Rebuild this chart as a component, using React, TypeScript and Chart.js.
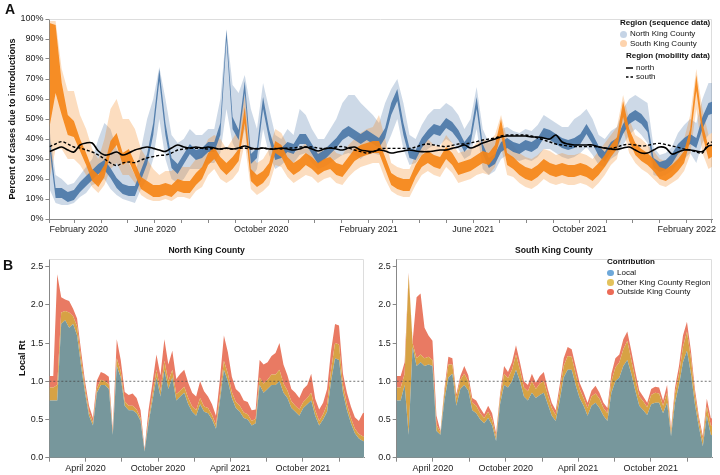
import React, { useEffect, useRef } from "react";
import { Chart, registerables } from "chart.js";

Chart.register(...registerables);

const FONT = "'Liberation Sans', Arial, Helvetica, sans-serif";
Chart.defaults.font.family = FONT;

// ---------------- Panel A (weekly samples from 2020-02-01; day index = days since 2020-01-01) ----------------
const A_START_DAY = 31;
const A_STEP_DAYS = 7;

const northMid = [
  38, 13, 13, 11, 12, 16, 19, 22, 25, 27,
  23, 18, 15, 14, 14, 22, 30, 45, 72, 45,
  28, 25, 30, 35, 32, 33, 36, 36, 45, 92,
  48, 42, 66, 30, 33, 58, 42, 32, 33, 36,
  35, 40, 40, 35, 30, 32, 35, 38, 42, 44,
  42, 40, 42, 40, 38, 43, 55, 62, 45, 33,
  32, 38, 42, 45, 44, 48, 46, 42, 36, 40,
  58, 35, 28, 30, 36, 38, 36, 35, 37, 36,
  38, 43, 42, 40, 38, 37, 38, 40, 45, 40,
  34, 31, 36, 38, 45, 50, 52, 50, 46, 28,
  26, 27, 30, 35, 38, 40, 38, 48, 55, 56,
];
const northHalf = [
  3, 2.5, 2.5, 2.5, 2.5, 2.5, 2.5, 2.5, 2.5, 2.5,
  2.5, 2.5, 2.5, 2.5, 2.5, 2.5, 2.5, 3, 3, 3,
  2.5, 2.5, 2.5, 2.5, 2.5, 2.5, 2.5, 2.5, 3, 2.5,
  3, 2.5, 3, 2.5, 2.5, 3, 2.5, 2.5, 2.5, 2.5,
  2.5, 2.5, 2.5, 2.5, 2.5, 2.5, 2.5, 2.5, 2.5, 2.5,
  2.5, 2.5, 2.5, 2.5, 2.5, 2.5, 3, 3, 3, 2.5,
  2.5, 2.5, 2.5, 2.5, 2.5, 2.5, 2.5, 2.5, 2.5, 2.5,
  3, 2.5, 2.5, 2.5, 2.5, 2.5, 2.5, 2.5, 2.5, 2.5,
  2.5, 2.5, 2.5, 2.5, 2.5, 2.5, 2.5, 2.5, 2.5, 2.5,
  2.5, 2.5, 2.5, 2.5, 2.5, 2.5, 2.5, 2.5, 2.5, 2.5,
  2.5, 2.5, 2.5, 2.5, 2.5, 2.5, 2.5, 3, 3, 3,
];
const northLo = [
  15, 8, 7, 7, 8, 11, 13, 17, 18, 20,
  15, 12, 10, 9, 8, 15, 20, 30, 50, 30,
  20, 18, 20, 25, 25, 25, 28, 28, 33, 55,
  38, 32, 45, 20, 25, 45, 32, 25, 27, 30,
  28, 32, 33, 28, 25, 26, 28, 30, 32, 33,
  32, 30, 33, 33, 32, 35, 42, 50, 35, 27,
  28, 32, 35, 37, 37, 40, 38, 35, 30, 32,
  45, 25, 22, 24, 30, 32, 30, 29, 30, 29,
  31, 35, 35, 33, 31, 30, 31, 33, 36, 32,
  27, 26, 30, 32, 37, 42, 45, 42, 38, 22,
  21, 22, 24, 28, 30, 33, 28, 38, 42, 44,
];
const northHi = [
  45, 22, 20, 17, 18, 22, 26, 30, 40, 48,
  45, 35, 30, 28, 22, 35, 50, 60, 76, 60,
  42, 38, 40, 45, 42, 42, 45, 45, 60, 95,
  67, 63, 72, 55, 45, 68, 55, 42, 40, 45,
  42, 55, 52, 45, 40, 40, 45, 50, 58, 62,
  62, 58, 55, 52, 48, 58, 65, 70, 58, 42,
  40, 47, 52, 55, 55, 58, 56, 52, 45, 50,
  66, 45, 38, 40, 45, 46, 44, 43, 45, 44,
  47, 52, 50, 48, 46, 46, 50, 52, 55, 50,
  42, 40, 44, 46, 55, 60, 62, 60, 58, 36,
  32, 33, 36, 43, 47, 50, 48, 60, 68, 68,
];

const southMid = [
  72, 80, 60, 47, 45, 37, 30, 22, 19, 24,
  36, 40, 30, 32, 25, 18, 16, 14, 14, 15,
  14, 17, 16, 16, 20, 23, 30, 33, 28, 25,
  28, 32, 52, 22, 19, 21, 25, 36, 34, 28,
  25, 27, 30, 28, 25, 27, 28, 25, 24, 28,
  32, 34, 35, 36, 36, 28, 20, 18, 17, 17,
  24, 29, 31, 29, 28, 33, 30, 25, 26, 27,
  29, 31, 30, 34, 46, 30, 28, 25, 23, 22,
  24, 27, 25, 24, 25, 24, 24, 25, 24, 22,
  25, 29, 34, 38, 55, 42, 35, 32, 30, 27,
  23, 22, 24, 27, 31, 42, 68, 45, 33, 35,
];
const southHalf = [
  26, 17, 8, 5, 4, 3, 3, 3, 3, 3,
  3, 3, 3, 3, 3, 3, 3, 3, 3, 3,
  3, 3, 3, 3, 3, 3, 3, 3, 3, 3,
  3, 3, 4, 3, 3, 3, 3, 3, 3, 3,
  3, 3, 3, 3, 3, 3, 3, 3, 3, 3,
  3, 3, 3, 3, 3, 3, 3, 3, 3, 3,
  3, 3, 3, 3, 3, 3, 3, 3, 3, 3,
  3, 3, 3, 3, 4, 3, 3, 3, 3, 3,
  3, 3, 3, 3, 3, 3, 3, 3, 3, 3,
  3, 3, 3, 3, 4, 3, 3, 3, 3, 3,
  3, 3, 3, 3, 3, 3, 4, 3, 3, 3,
];
const southLo = [
  20, 35, 35, 30, 30, 27, 22, 16, 13, 17,
  25, 28, 22, 22, 18, 12, 10, 9, 9, 10,
  9, 11, 11, 10, 14, 16, 22, 25, 20, 18,
  20, 24, 38, 15, 12, 14, 17, 27, 26, 21,
  18, 20, 22, 21, 18, 20, 21, 18, 17, 21,
  24, 26, 27, 28, 28, 20, 14, 12, 11, 11,
  17, 22, 24, 22, 21, 26, 23, 18, 19, 20,
  22, 23, 22, 26, 36, 22, 21, 18, 16, 15,
  17, 20, 18, 17, 18, 17, 17, 18, 17, 15,
  18, 22, 27, 30, 45, 33, 28, 25, 23, 20,
  17, 16, 18, 20, 24, 32, 55, 33, 25, 27,
];
const southHi = [
  99, 99, 75, 64, 64, 52, 45, 35, 30, 40,
  55, 60, 50, 50, 45, 35, 30, 25, 22, 24,
  24, 27, 26, 26, 30, 33, 40, 42, 40, 35,
  40, 45, 62, 32, 28, 30, 35, 45, 43, 37,
  33, 35, 38, 36, 33, 35, 37, 33, 32, 37,
  40, 43, 45, 46, 52, 40, 28, 26, 25, 25,
  32, 37, 40, 37, 36, 42, 38, 33, 34, 35,
  38, 40, 39, 42, 52, 40, 37, 33, 31, 30,
  32, 35, 34, 32, 33, 32, 32, 33, 32, 30,
  34, 38, 42, 46, 62, 50, 42, 40, 37, 34,
  30, 29, 31, 35, 40, 52, 75, 55, 42, 44,
];

const mobilityNorth = [
  33.7, 35, 36, 34.5, 33.5, 37, 38, 38, 34, 32,
  32.5, 33.5, 32, 33, 34.5, 35.3, 36, 35.3, 34.5, 33.8,
  35.5, 37, 36, 35.5, 36, 35.5, 36, 35.5, 35, 35.5,
  35, 35.5, 36.5, 35.5, 35, 35.5, 35, 35, 35.5, 35,
  34.5, 35, 36, 35, 34, 35, 35.5, 35, 34.5, 35.5,
  36, 34.5, 34, 33.7, 34.5, 34, 33, 33.5, 34, 34.5,
  34, 33.7, 33.7, 34, 34.5, 34.5, 35.3, 36, 37, 35.5,
  36.5, 38, 39, 40, 41, 41.5, 41.5, 41.5, 41.5, 41,
  41, 40.5, 40, 42, 38.5, 37.5, 37, 37, 37, 37,
  36, 35.5, 35, 34.8, 35.5, 36, 34.5, 33, 33, 34.5,
  36, 35.5, 32.5, 33.5, 34.5, 34.5, 34, 33.7, 36.5, 37,
];
const mobilitySouth = [
  36.2, 37.5, 38.7, 37.5, 36, 35.5, 34.5, 33.5, 32, 30,
  28, 26.7, 28, 28.5, 28.2, 29.5, 30.5, 31.2, 31.8, 32,
  33, 34.5, 35, 35.3, 35.3, 35.3, 35, 35.3, 35, 35.3,
  35, 35.3, 35.5, 35, 35.3, 35.5, 35, 35.3, 35, 35.5,
  35.5, 36, 36, 36, 35.5, 35.3, 35.5, 36, 36.2, 35.5,
  34.5, 33.7, 33, 33.5, 35, 35.3, 35.3, 35.3, 35.3, 35.3,
  36, 37, 37.5, 37, 36.5, 36.2, 36.8, 37.5, 37.5, 38,
  38.7, 39.5, 40, 40.5, 41.5, 42, 42, 42, 42, 41.5,
  40.5, 39.5, 38.5, 37.5, 37, 36.5, 36.2, 36.2, 36.2, 36.2,
  36, 35.5, 35.3, 36, 37, 37.3, 37, 36.5, 36.8, 37.5,
  37.8, 37.2, 36.5, 35.8, 35, 34.5, 33.5, 33, 38, 38.5,
];

const yTicksA = [0, 10, 20, 30, 40, 50, 60, 70, 80, 90, 100];

// ---------------- Panel B (10-day samples from 2020-01-01) ----------------
const B_STEP_DAYS = 10;

const northLocal = [
  0.75, 0.75, 0.75, 1.75, 1.8, 1.7, 1.75, 1.6, 1.2, 0.85,
  0.55, 0.42, 0.85, 0.95, 0.95, 0.9, 0.3, 1.2, 1.05, 0.68,
  0.62, 0.62, 0.58, 0.48, 0.08, 0.45, 0.75, 1.05, 0.8, 1.15,
  0.9, 1.05, 0.75, 0.8, 0.85, 0.7, 0.6, 0.55, 0.7, 0.6,
  0.58, 0.5, 0.38, 0.75, 1.15, 1.0, 0.78, 0.65, 0.6, 0.52,
  0.5, 0.42, 0.45, 0.95, 0.85, 0.9, 0.95, 0.95, 1.0, 0.85,
  0.78, 0.65, 0.6, 0.55, 0.65, 0.7, 0.75, 0.55, 0.42, 0.5,
  0.6, 1.0, 1.3, 1.28, 0.85, 0.62, 0.45, 0.32, 0.25, 0.22,
  0.2,
];
const northOther = [
  0.17, 0.17, 0.2, 0.15, 0.12, 0.2, 0.1, 0.12, 0.1, 0.07,
  0.05, 0.04, 0.06, 0.07, 0.05, 0.06, 0.03, 0.1, 0.08, 0.06,
  0.06, 0.06, 0.05, 0.04, 0.01, 0.05, 0.08, 0.1, 0.08, 0.12,
  0.1, 0.1, 0.08, 0.08, 0.08, 0.08, 0.07, 0.07, 0.08, 0.07,
  0.07, 0.06, 0.05, 0.08, 0.12, 0.1, 0.08, 0.08, 0.08, 0.07,
  0.07, 0.06, 0.06, 0.1, 0.12, 0.12, 0.14, 0.14, 0.15, 0.12,
  0.1, 0.09, 0.08, 0.08, 0.08, 0.08, 0.1, 0.07, 0.06, 0.07,
  0.1, 0.15, 0.2, 0.2, 0.1, 0.08, 0.07, 0.06, 0.06, 0.06,
  0.06,
];
const northOutside = [
  0.15, 0.15, 1.45, 0.2, 0.15, 0.15, 0.1, 0.1, 0.1, 0.08,
  0.08, 0.06, 0.1, 0.1, 0.1, 0.1, 0.05, 0.25, 0.15, 0.12,
  0.14, 0.16, 0.15, 0.1, 0.02, 0.12, 0.15, 0.2, 0.2, 0.28,
  0.22, 0.25, 0.2, 0.22, 0.22, 0.2, 0.18, 0.18, 0.22, 0.2,
  0.15, 0.14, 0.12, 0.2, 0.33, 0.28, 0.2, 0.17, 0.17, 0.16,
  0.16, 0.14, 0.12, 0.23, 0.25, 0.23, 0.24, 0.28, 0.35, 0.25,
  0.2, 0.16, 0.17, 0.15, 0.17, 0.17, 0.25, 0.15, 0.15, 0.15,
  0.2, 0.25, 0.25, 0.25, 0.15, 0.15, 0.15, 0.15, 0.17, 0.3,
  0.35,
];

const southLocal = [
  0.75, 0.75, 0.95, 0.3, 1.45, 1.2, 1.25, 1.2, 1.22, 1.2,
  0.35, 0.3, 0.75, 1.05, 1.1, 0.68, 0.9, 0.95, 0.88, 0.62,
  0.58, 0.5, 0.45, 0.52, 0.42, 0.22, 0.7, 0.95, 0.92, 1.0,
  1.15, 1.0, 0.8, 0.75, 0.85, 0.78, 0.82, 0.85, 0.7, 0.55,
  0.48, 0.75, 1.05, 1.15, 1.15, 0.95, 0.78, 0.68, 0.55, 0.68,
  0.72, 0.65, 0.55, 0.48, 0.85, 1.0, 1.05, 1.2, 1.28, 1.1,
  0.88, 0.68, 0.62, 0.56, 0.7, 0.72, 0.72, 0.58, 0.72, 0.28,
  0.72, 0.95, 1.25, 1.4, 1.1, 0.7, 0.4, 0.15, 0.55, 0.3,
  0.28,
];
const southOther = [
  0.17, 0.17, 0.15, 2.1, 0.05, 0.1, 0.1, 0.1, 0.1, 0.08,
  0.08, 0.03, 0.1, 0.17, 0.12, 0.1, 0.12, 0.15, 0.12, 0.1,
  0.1, 0.08, 0.07, 0.08, 0.08, 0.05, 0.08, 0.15, 0.12, 0.15,
  0.2, 0.15, 0.12, 0.12, 0.15, 0.12, 0.15, 0.15, 0.12, 0.1,
  0.08, 0.12, 0.15, 0.18, 0.17, 0.15, 0.12, 0.1, 0.1, 0.12,
  0.12, 0.12, 0.1, 0.1, 0.15, 0.18, 0.2, 0.22, 0.25, 0.18,
  0.15, 0.12, 0.12, 0.1, 0.12, 0.13, 0.12, 0.1, 0.13, 0.06,
  0.12, 0.15, 0.2, 0.25, 0.2, 0.12, 0.08, 0.08, 0.12, 0.12,
  0.12,
];
const southOutside = [
  0.15, 0.15, 0.15, 0.02, 0.02, 0.8, 0.8, 0.4, 0.28, 0.25,
  0.12, 0.02, 0.05, 0.1, 0.08, 0.05, 0.05, 0.1, 0.08, 0.06,
  0.07, 0.07, 0.05, 0.08, 0.08, 0.05, 0.05, 0.1, 0.08, 0.1,
  0.12, 0.1, 0.08, 0.08, 0.1, 0.08, 0.1, 0.12, 0.08, 0.07,
  0.06, 0.08, 0.1, 0.12, 0.1, 0.1, 0.08, 0.08, 0.07, 0.08,
  0.1, 0.08, 0.07, 0.07, 0.1, 0.12, 0.1, 0.13, 0.12, 0.12,
  0.1, 0.08, 0.06, 0.06, 0.08, 0.08, 0.08, 0.07, 0.1, 0.04,
  0.08, 0.1, 0.15, 0.13, 0.1, 0.08, 0.06, 0.05, 0.1, 0.1,
  0.1,
];

const yTicksB = [0, 0.5, 1, 1.5, 2, 2.5];
const REFERENCE_RT = 1;

// ---------------- helpers ----------------
const MONTHS = ["January", "February", "March", "April", "May", "June", "July", "August", "September", "October", "November", "December"];
const dayIndex = (y: number, m: number) => Math.round((Date.UTC(y, m, 1) - Date.UTC(2020, 0, 1)) / 86400000);

type Tick = { value: number; label: string };
function monthTicks(y0: number, m0: number, y1: number, m1: number, step: number, labelled: number[]): Tick[] {
  const out: Tick[] = [];
  let y = y0, m = m0;
  while (y < y1 || (y === y1 && m <= m1)) {
    out.push({ value: dayIndex(y, m), label: labelled.includes(m) ? `${MONTHS[m]} ${y}` : "" });
    m += step;
    while (m >= 12) { m -= 12; y += 1; }
  }
  return out;
}

const ticksA = monthTicks(2020, 1, 2022, 2, 1, [1, 5, 9]);
const ticksB = monthTicks(2020, 0, 2022, 0, 3, [3, 9]);

const daysA = northMid.map((_, i) => A_START_DAY + i * A_STEP_DAYS);
const daysB = northLocal.map((_, i) => i * B_STEP_DAYS);

const pts = (xs: number[], ys: number[]) => xs.map((x, i) => ({ x, y: ys[i] }));

const TICK_COLOR = "#888";
const LABEL_COLOR = "#1a1a1a";

function xScale(min: number, max: number, ticks: Tick[], height: number, align: string) {
  return {
    type: "linear",
    min,
    max,
    afterBuildTicks: (s: any) => { s.ticks = ticks.map((t) => ({ value: t.value })); },
    afterFit: (s: any) => { s.height = height; },
    ticks: {
      autoSkip: false,
      maxRotation: 0,
      minRotation: 0,
      align,
      padding: 1,
      color: LABEL_COLOR,
      font: { size: 9, family: FONT },
      callback: (v: number) => { const t = ticks.find((tt) => tt.value === v); return t ? t.label : ""; },
    },
    grid: { display: true, drawOnChartArea: false, drawTicks: true, tickLength: 4, color: TICK_COLOR, lineWidth: 1 },
    border: { display: true, color: TICK_COLOR, width: 1 },
  };
}

function yScale(min: number, max: number, values: number[], fmt: (v: number) => string, width: number, title: any, stacked = false) {
  return {
    type: "linear",
    min,
    max,
    stacked,
    afterBuildTicks: (s: any) => { s.ticks = values.map((v) => ({ value: v })); },
    afterFit: (s: any) => { s.width = width; },
    ticks: { padding: 2, color: LABEL_COLOR, font: { size: 9, family: FONT }, callback: (v: number) => fmt(v) },
    grid: { display: true, drawOnChartArea: false, drawTicks: true, tickLength: 4, color: TICK_COLOR, lineWidth: 1 },
    border: { display: true, color: TICK_COLOR, width: 1 },
    title: title || { display: false },
  };
}

const framePlugin = {
  id: "frame",
  beforeDatasetsDraw(chart: any) {
    const { ctx, chartArea: a } = chart;
    ctx.save();
    ctx.strokeStyle = "#dddddd";
    ctx.lineWidth = 1;
    ctx.beginPath();
    ctx.moveTo(a.left, a.top + 0.5);
    ctx.lineTo(a.right - 0.5, a.top + 0.5);
    ctx.lineTo(a.right - 0.5, a.bottom);
    ctx.stroke();
    ctx.restore();
  },
};

const LOCAL_FILL = "#77979c";
const OTHER_FILL = "#d7a244";
const OUTSIDE_FILL = "#e97a63";

function band(lo: number[], hi: number[], color: string) {
  const base = { borderWidth: 0, borderColor: "transparent", pointRadius: 0, tension: 0 };
  return [
    { ...base, data: pts(daysA, lo), fill: false },
    { ...base, data: pts(daysA, hi), fill: "-1", backgroundColor: color },
  ];
}

function buildA(canvas: HTMLCanvasElement) {
  const nIn = band(northMid.map((m, i) => m - northHalf[i]), northMid.map((m, i) => m + northHalf[i]), "rgba(76,120,168,0.92)");
  const sIn = band(southMid.map((m, i) => m - southHalf[i]), southMid.map((m, i) => m + southHalf[i]), "rgba(245,133,24,0.92)");
  const nOut = band(northLo, northHi, "rgba(76,120,168,0.28)");
  const sOut = band(southLo, southHi, "rgba(245,133,24,0.28)");
  const datasets: any[] = [
    { data: pts(daysA, mobilityNorth), borderColor: "#000", borderWidth: 1.6, pointRadius: 0, tension: 0.35, fill: false },
    { data: pts(daysA, mobilitySouth), borderColor: "#000", borderWidth: 1.4, borderDash: [3, 2], pointRadius: 0, tension: 0.35, fill: false },
    ...sIn,
    ...nIn,
    ...sOut,
    ...nOut,
  ];
  return new Chart(canvas, {
    type: "line",
    data: { datasets },
    plugins: [framePlugin],
    options: {
      animation: false,
      responsive: false,
      maintainAspectRatio: false,
      layout: { padding: { left: 0, right: 8, top: 19, bottom: 0 } },
      plugins: { legend: { display: false }, tooltip: { enabled: false } },
      scales: {
        x: xScale(31, 791, ticksA, 21, "inner"),
        y: yScale(0, 100, yTicksA, (v) => `${v}%`, 49.5, {
          display: true,
          text: "Percent of cases due to introductions",
          color: "#111",
          font: { size: 9, weight: "bold", family: FONT },
          padding: { top: 7.6, bottom: 0 },
        }),
      },
    } as any,
  } as any);
}

function buildB(canvas: HTMLCanvasElement, local: number[], other: number[], outside: number[], yWidth: number, rightPad: number, showTitle: boolean) {
  const base = { borderWidth: 0, borderColor: "transparent", pointRadius: 0, tension: 0, stack: "contrib" };
  const datasets: any[] = [
    { data: [{ x: 0, y: REFERENCE_RT }, { x: 800, y: REFERENCE_RT }], borderColor: "rgba(70,70,70,0.75)", borderWidth: 1, borderDash: [2, 2], pointRadius: 0, fill: false, stack: "ref" },
    { ...base, data: pts(daysB, local), fill: "origin", backgroundColor: LOCAL_FILL },
    { ...base, data: pts(daysB, other), fill: "-1", backgroundColor: OTHER_FILL },
    { ...base, data: pts(daysB, outside), fill: "-1", backgroundColor: OUTSIDE_FILL },
  ];
  return new Chart(canvas, {
    type: "line",
    data: { datasets },
    plugins: [framePlugin],
    options: {
      animation: false,
      responsive: false,
      maintainAspectRatio: false,
      layout: { padding: { left: 0, right: rightPad, top: 19, bottom: 0 } },
      plugins: { legend: { display: false }, tooltip: { enabled: false } },
      scales: {
        x: xScale(0, 793, ticksB, 17.3, "center"),
        y: yScale(0, 2.6, yTicksB, (v) => v.toFixed(1), yWidth, showTitle ? {
          display: true,
          text: "Local Rt",
          color: "#111",
          font: { size: 9, weight: "bold", family: FONT },
          padding: { top: 17.6, bottom: 0 },
        } : null, true),
      },
    } as any,
  } as any);
}

function Txt(props: { x: number; y: number; size: number; bold?: boolean; center?: boolean; children: any }) {
  const { x, y, size, bold, center, children } = props;
  const style: any = {
    position: "absolute",
    left: x,
    top: y - size / 2,
    fontSize: size,
    lineHeight: `${size}px`,
    fontWeight: bold ? "bold" : "normal",
    whiteSpace: "nowrap",
    color: "#111",
    fontFamily: FONT,
  };
  if (center) style.transform = "translateX(-50%)";
  return <div style={style}>{children}</div>;
}

function Dot(props: { x: number; y: number; r: number; color: string }) {
  const { x, y, r, color } = props;
  return <div style={{ position: "absolute", left: x - r, top: y - r, width: 2 * r, height: 2 * r, borderRadius: "50%", background: color }} />;
}

export default function App() {
  const aRef = useRef<HTMLCanvasElement>(null);
  const nRef = useRef<HTMLCanvasElement>(null);
  const sRef = useRef<HTMLCanvasElement>(null);

  useEffect(() => {
    const charts: Chart[] = [];
    if (aRef.current) charts.push(buildA(aRef.current));
    if (nRef.current) charts.push(buildB(nRef.current, northLocal, northOther, northOutside, 49.3, 6, true));
    if (sRef.current) charts.push(buildB(sRef.current, southLocal, southOther, southOutside, 26.7, 8, false));
    return () => { charts.forEach((c) => c.destroy()); };
  }, []);

  return (
    <div style={{ position: "fixed", left: 0, top: 0, width: 720, height: 475, background: "#fff", overflow: "hidden", fontFamily: FONT }}>
      <canvas ref={aRef} width={720} height={240} style={{ position: "absolute", left: 0, top: 0, width: 720, height: 240 }} />
      <canvas ref={nRef} width={370} height={235} style={{ position: "absolute", left: 0, top: 240, width: 370, height: 235 }} />
      <canvas ref={sRef} width={350} height={235} style={{ position: "absolute", left: 370, top: 240, width: 350, height: 235 }} />

      <Txt x={5} y={8.7} size={14} bold>A</Txt>
      <Txt x={3} y={265} size={14} bold>B</Txt>

      {/* Panel A legend */}
      <Txt x={620} y={22.7} size={8} bold>Region (sequence data)</Txt>
      <Dot x={623.5} y={34} r={3.5} color="#c5d4e6" />
      <Txt x={630} y={34} size={8}>North King County</Txt>
      <Dot x={623.5} y={43.7} r={3.5} color="#fdd3ad" />
      <Txt x={630} y={43.7} size={8}>South King County</Txt>
      <Txt x={626} y={56} size={8} bold>Region (mobility data)</Txt>
      <svg style={{ position: "absolute", left: 625, top: 66 }} width={9} height={4}>
        <line x1={1} y1={2} x2={8} y2={2} stroke="#000" strokeWidth={1.5} />
      </svg>
      <Txt x={636} y={68} size={8}>north</Txt>
      <svg style={{ position: "absolute", left: 625, top: 75 }} width={9} height={4}>
        <line x1={1} y1={2} x2={8} y2={2} stroke="#000" strokeWidth={1.5} strokeDasharray="2.5,2" />
      </svg>
      <Txt x={636} y={77} size={8}>south</Txt>

      {/* Panel B titles */}
      <Txt x={206.6} y={250.7} size={8.6} bold center>North King County</Txt>
      <Txt x={554} y={250.7} size={8.6} bold center>South King County</Txt>

      {/* Panel B legend */}
      <Txt x={607} y={261.7} size={8} bold>Contribution</Txt>
      <Dot x={610.7} y={273} r={3.3} color="#6ea8d9" />
      <Txt x={617} y={273} size={8}>Local</Txt>
      <Dot x={610.7} y={282.7} r={3.3} color="#e3c25c" />
      <Txt x={617} y={282.7} size={8}>Other King County Region</Txt>
      <Dot x={610.7} y={292} r={3.3} color="#ec6b57" />
      <Txt x={617} y={292} size={8}>Outside King County</Txt>
    </div>
  );
}
